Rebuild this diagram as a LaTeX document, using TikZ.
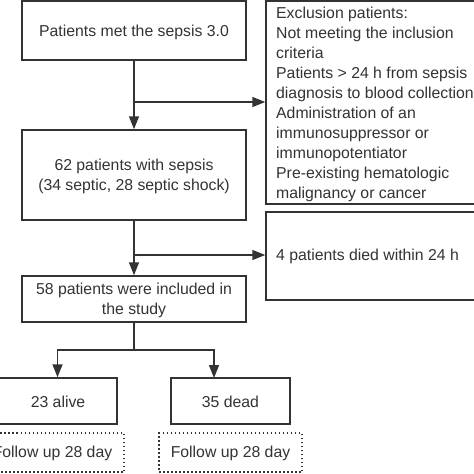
\documentclass[tikz,border=0pt]{standalone}
\usepackage{fontspec}
\setmainfont{Liberation Sans}
\usetikzlibrary{arrows.meta}
\definecolor{ink}{HTML}{333333}
\tikzset{
  x=1pt,y=-1pt,
  box/.style={draw=ink,line width=1.5pt,inner sep=0pt,anchor=center},
  dotbox/.style={draw=ink,line width=1.6pt,dash pattern=on 1.5pt off 2.5pt,inner sep=0pt,anchor=center},
  lbl/.style={text=ink,font=\fontsize{15.8}{20}\selectfont,inner sep=0pt,align=center},
  conn/.style={draw=ink,line width=1.5pt},
  arr/.style={conn,-{Triangle[length=13pt,width=10pt]}}
}
\begin{document}
\begin{tikzpicture}
\useasboundingbox (0,0) rectangle (474,474);
\clip (0,0) rectangle (474,474);
\fill[white] (0,0) rectangle (474,474);
% boxes
\node[box,minimum width=224pt,minimum height=59pt] (b1) at (134,30.5) {};
\node[box,minimum width=224pt,minimum height=203pt] (ex) at (378,102.5) {};
\node[box,minimum width=224pt,minimum height=90pt] (b2) at (134,175) {};
\node[box,minimum width=224pt,minimum height=88pt] (di) at (378,256) {};
\node[box,minimum width=224pt,minimum height=46pt] (b3) at (134,299) {};
\node[box,minimum width=119pt,minimum height=46pt] (al) at (57.5,401) {};
\node[box,minimum width=119pt,minimum height=46pt] (de) at (230.5,401) {};
\node[dotbox,minimum width=143pt,minimum height=39pt] (fa) at (52.5,452.5) {};
\node[dotbox,minimum width=143pt,minimum height=39pt] (fd) at (230.5,452.5) {};
% texts
\node[lbl] (t1) at (134,32) {Patients met the sepsis 3.0};
\node[lbl,align=left,anchor=north west] (tex) at (276,7.2) {Exclusion patients:\\Not meeting the inclusion\\criteria\\Patients > 24 h from sepsis\\diagnosis to blood collection\\Administration of an\\immunosuppressor or\\immunopotentiator\\Pre-existing hematologic\\malignancy or cancer};
\node[lbl] (t2) at (134,176) {62 patients with sepsis\\(34 septic, 28 septic shock)};
\node[lbl,anchor=west] (tdi) at (276,256.5) {4 patients died within 24 h};
\node[lbl] (t3) at (134,300) {58 patients were included in\\the study};
\node[lbl] (tal) at (58,401.5) {23 alive};
\node[lbl] (tde) at (230.5,401.5) {35 dead};
\node[lbl] (tfa) at (52.5,453) {Follow up 28 day};
\node[lbl] (tfd) at (230.5,453) {Follow up 28 day};
% connectors
\coordinate (j1) at (134,102);
\coordinate (j2) at (134,255);
\coordinate (j3) at (134,350);
\coordinate (dt) at (214,378);
\draw[arr] (b1.south) -- (b2.north);
\draw[arr] (j1) -- (j1 -| ex.west);
\draw[arr] (b2.south) -- (b3.north);
\draw[arr] (j2) -- (j2 -| di.west);
\draw[conn] (b3.south) -- (j3);
\draw[arr] (j3) -| (al.north);
\draw[arr] (j3) -| (dt);
\end{tikzpicture}
\end{document}
